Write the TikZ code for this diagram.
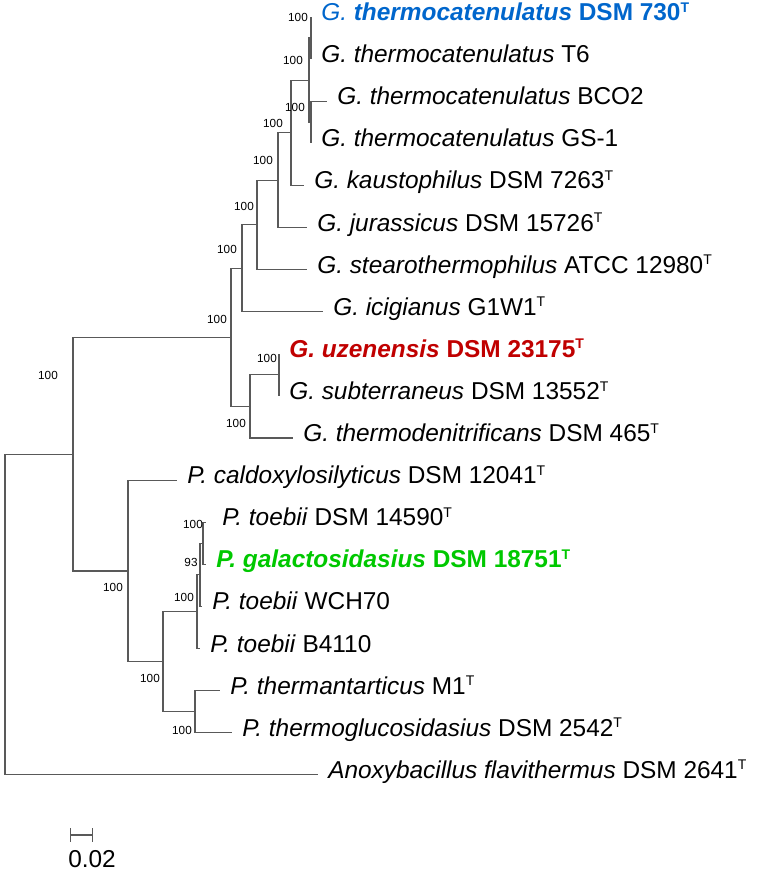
\documentclass[tikz,border=0pt]{standalone}
\usepackage{fontspec}
\setmainfont{Liberation Sans}
\usetikzlibrary{positioning,arrows.meta}
\definecolor{typeblue}{RGB}{0,102,204}
\definecolor{typered}{RGB}{192,0,0}
\definecolor{typegreen}{RGB}{0,200,0}
\newcommand{\tstr}{\raisebox{6.3pt}{\fontsize{10.5}{10}\selectfont T}}

\begin{document}
\begin{tikzpicture}[x=0.75pt, y=-0.75pt,
                branch/.style={black!65, line width=0.8pt},
                taxon/.style={inner sep=0pt, anchor=mid west, font=\fontsize{18.3}{22}\selectfont},
                boot/.style={inner sep=0pt, font=\fontsize{8.8}{10}\selectfont},
                node distance=7.5pt]
                \useasboundingbox (0,0) rectangle (758,873);

                \coordinate (l1) at (311,17);
                \coordinate (l2) at (311,59.1);
                \coordinate (l3) at (327,101.2);
                \coordinate (l4) at (311,143.3);
                \coordinate (l5) at (304,185.4);
                \coordinate (l6) at (307,227.5);
                \coordinate (l7) at (307,269.6);
                \coordinate (l8) at (323,311.7);
                \coordinate (l9) at (279,353.8);
                \coordinate (l10) at (279,395.9);
                \coordinate (l11) at (293,438);
                \coordinate (l12) at (177,480.1);
                \coordinate (l13) at (206,522.2);
                \coordinate (l14) at (206,564.3);
                \coordinate (l15) at (202,606.4);
                \coordinate (l16) at (200,648.5);
                \coordinate (l17) at (220,690.6);
                \coordinate (l18) at (232,732.7);
                \coordinate (l19) at (318,774.8);

                \coordinate (n1) at (311,38);
                \coordinate (n2) at (311,122.2);
                \coordinate (n3) at (309,80.1);
                \coordinate (n4) at (291,132.8);
                \coordinate (n5) at (278,180.1);
                \coordinate (n6) at (257,224.9);
                \coordinate (n7) at (242,268.3);
                \coordinate (n8) at (279,374.9);
                \coordinate (n9) at (250,406.4);
                \coordinate (n10) at (231,337.4);
                \coordinate (n11) at (203,543.3);
                \coordinate (n12) at (200,574.8);
                \coordinate (n13) at (197,611.7);
                \coordinate (n14) at (195,711.7);
                \coordinate (n15) at (163,661.7);
                \coordinate (n16) at (128,571);
                \coordinate (n17) at (73,454.2);
                \coordinate (n18) at (5,614.5);

                \draw[branch] (n1) |- (l1) (n1) |- (l2);
                \draw[branch] (n2) |- (l3) (n2) |- (l4);
                \draw[branch] (n3) |- (n1) (n3) |- (n2);
                \draw[branch] (n4) |- (n3) (n4) |- (l5);
                \draw[branch] (n5) |- (n4) (n5) |- (l6);
                \draw[branch] (n6) |- (n5) (n6) |- (l7);
                \draw[branch] (n7) |- (n6) (n7) |- (l8);
                \draw[branch] (n8) |- (l9) (n8) |- (l10);
                \draw[branch] (n9) |- (n8) (n9) |- (l11);
                \draw[branch] (n10) |- (n7) (n10) |- (n9);
                \draw[branch] (n11) |- (l13) (n11) |- (l14);
                \draw[branch] (n12) |- (n11) (n12) |- (l15);
                \draw[branch] (n13) |- (n12) (n13) |- (l16);
                \draw[branch] (n14) |- (l17) (n14) |- (l18);
                \draw[branch] (n15) |- (n13) (n15) |- (n14);
                \draw[branch] (n16) |- (l12) (n16) |- (n15);
                \draw[branch] (n17) |- (n10) (n17) |- (n16);
                \draw[branch] (n18) |- (n17) (n18) |- (l19);

                \node[right=of l1, taxon] (t1) {\color{typeblue}\textit{G.} \textbf{\textit{thermocatenulatus} DSM 730\tstr}};
                \node[right=of l2, taxon] (t2) {\textit{G. thermocatenulatus} T6};
                \node[right=of l3, taxon] (t3) {\textit{G. thermocatenulatus} BCO2};
                \node[right=of l4, taxon] (t4) {\textit{G. thermocatenulatus} GS-1};
                \node[right=of l5, taxon] (t5) {\textit{G. kaustophilus} DSM 7263\tstr};
                \node[right=of l6, taxon] (t6) {\textit{G. jurassicus} DSM 15726\tstr};
                \node[right=of l7, taxon] (t7) {\textit{G. stearothermophilus} ATCC 12980\tstr};
                \node[right=of l8, taxon] (t8) {\textit{G. icigianus} G1W1\tstr};
                \node[right=of l9, taxon] (t9) {\color{typered}\bfseries\textit{G. uzenensis} DSM 23175\tstr};
                \node[right=of l10, taxon] (t10) {\textit{G. subterraneus} DSM 13552\tstr};
                \node[right=of l11, taxon] (t11) {\textit{G. thermodenitrificans} DSM 465\tstr};
                \node[right=of l12, taxon] (t12) {\textit{P. caldoxylosilyticus} DSM 12041\tstr};
                \node[right=12pt of l13, taxon] (t13) {\textit{P. toebii} DSM 14590\tstr};
                \node[right=of l14, taxon] (t14) {\color{typegreen}\bfseries\textit{P. galactosidasius} DSM 18751\tstr};
                \node[right=of l15, taxon] (t15) {\textit{P. toebii} WCH70};
                \node[right=of l16, taxon] (t16) {\textit{P. toebii} B4110};
                \node[right=of l17, taxon] (t17) {\textit{P. thermantarticus} M1\tstr};
                \node[right=of l18, taxon] (t18) {\textit{P. thermoglucosidasius} DSM 2542\tstr};
                \node[right=of l19, taxon] (t19) {\textit{Anoxybacillus flavithermus} DSM 2641\tstr};

                \node[boot] (b1) at (298,17) {100};
                \node[boot] (b3) at (293,60) {100};
                \node[boot] (b2) at (295,107) {100};
                \node[boot] (b4) at (273,123) {100};
                \node[boot] (b5) at (263,160) {100};
                \node[boot] (b6) at (244,206) {100};
                \node[boot] (b7) at (227,249) {100};
                \node[boot] (b10) at (217,319) {100};
                \node[boot] (b17) at (48,375) {100};
                \node[boot] (b8) at (267,358) {100};
                \node[boot] (b9) at (236,423) {100};
                \node[boot] (b16) at (113,587) {100};
                \node[boot] (b15) at (150,678) {100};
                \node[boot] (b11) at (193,524) {100};
                \node[boot] (b12) at (191,562) {93};
                \node[boot] (b13) at (184,597) {100};
                \node[boot] (b14) at (182,730) {100};

                \coordinate (s1) at (70,835);
                \coordinate (s2) at (93,835);
                \draw[branch, {Bar[width=10pt]}-{Bar[width=10pt]}] (s1) -- (s2);
                \node[taxon, anchor=west] (scale) at (68,859) {0.02};
            \end{tikzpicture}
\end{document}
